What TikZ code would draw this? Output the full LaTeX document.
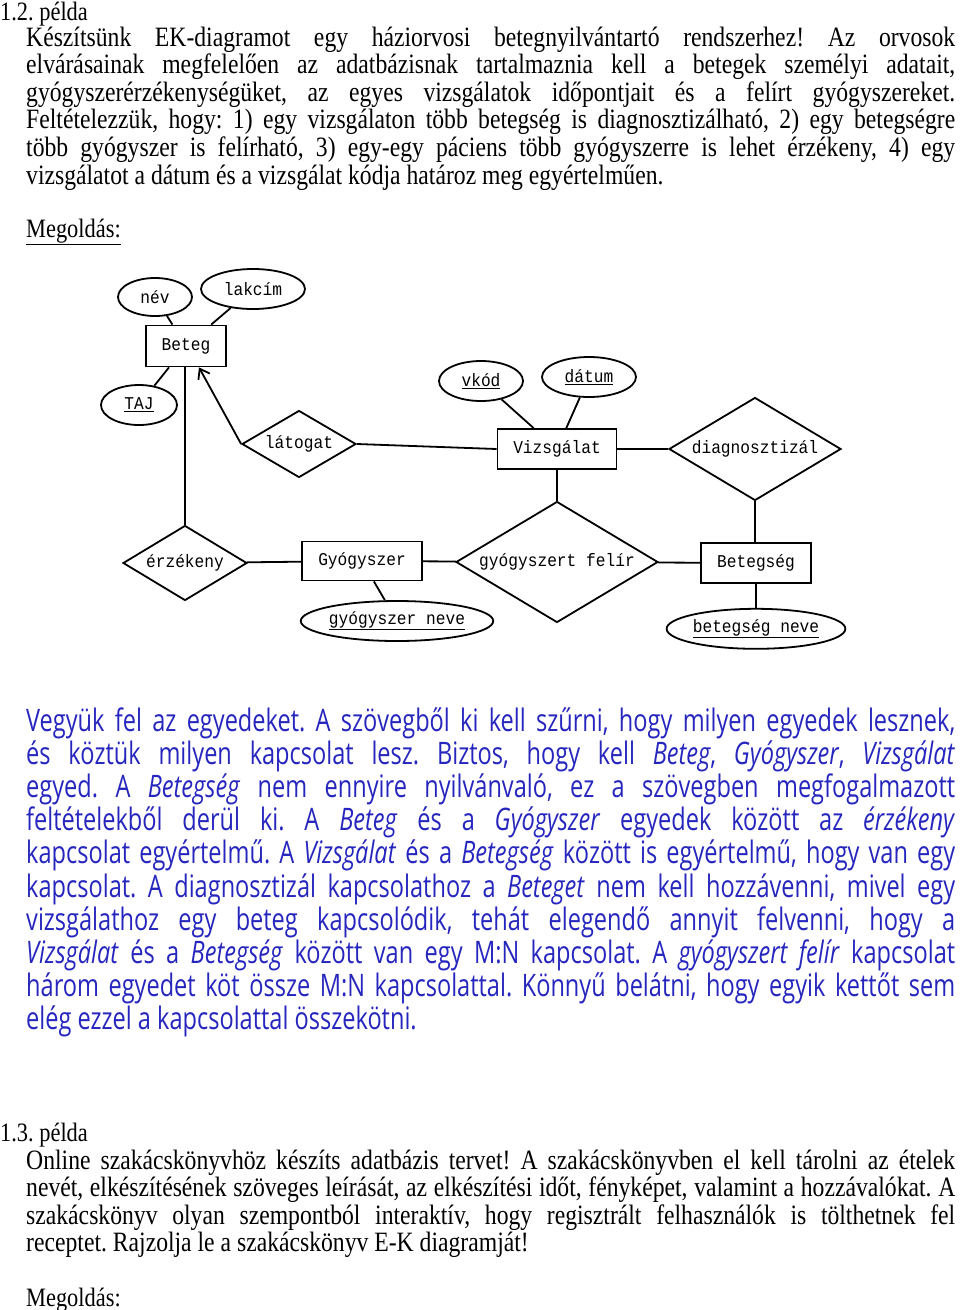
\documentclass[tikz,border=0pt]{standalone}
\usepackage{fontspec}
\setmainfont{Liberation Serif}[FakeStretch=0.845]
\setmonofont{Liberation Mono}[FakeStretch=0.9]
\newfontfamily\kekfont{Open Sans}[FakeStretch=0.76]
\usepackage{xcolor}
\usepackage{tikz}
\usetikzlibrary{shapes.geometric, arrows.meta, positioning}
\definecolor{kek}{RGB}{38,38,190}
\tolerance=10000
\hyphenpenalty=10000
\exhyphenpenalty=10000
\frenchspacing

\tikzset{
  egyed/.style={draw, rectangle, line width=1.8pt, inner sep=0pt, font=\ttfamily\fontsize{18}{20}\selectfont},
  kapcs/.style={draw, diamond, line width=1.8pt, inner sep=0pt, font=\ttfamily\fontsize{18}{20}\selectfont},
  tul/.style={draw, ellipse, line width=1.8pt, inner sep=0pt, font=\ttfamily\fontsize{18}{20}\selectfont},
  vonal/.style={line width=1.8pt},
  nyil/.style={-{Straight Barb[length=9pt,width=13pt]}},
  cim/.style={anchor=base west, inner sep=0pt, font=\fontsize{26.5}{27.6}\selectfont},
  bekezdes/.style={anchor=base west, inner sep=0pt, text width=929pt, align=justify, font=\fontsize{28}{27.6}\selectfont},
  megold/.style={anchor=base west, inner sep=0pt, text width=929pt, align=justify, text=kek, font=\kekfont\fontsize{31}{33.2}\selectfont}
}

\begin{document}
\begin{tikzpicture}[x=1pt, y=-1pt]
            \useasboundingbox (0,0) rectangle (960,1310);

            \node[cim] (pelda12) at (0,20) {1.2. példa};
            \node[bekezdes] (feladat12) at (26,46) {Készítsünk EK-diagramot egy háziorvosi betegnyilvántartó rendszerhez! Az orvosok\linebreak
            elvárásainak megfelelően az adatbázisnak tartalmaznia kell a betegek személyi adatait,\linebreak
            gyógyszerérzékenységüket, az egyes vizsgálatok időpontjait és a felírt gyógyszereket.\linebreak
            Feltételezzük, hogy: 1) egy vizsgálaton több betegség is diagnosztizálható, 2) egy betegségre\linebreak
            több gyógyszer is felírható, 3) egy-egy páciens több gyógyszerre is lehet érzékeny, 4) egy\linebreak
            vizsgálatot a dátum és a vizsgálat kódja határoz meg egyértelműen.};
            \node[cim] (megoldas12) at (26,237) {\underline{Megoldás:}};

            % egyedek
            \node[egyed, minimum width=80pt, minimum height=41pt] (Beteg) at (186,346) {Beteg};
            \node[egyed, minimum width=119pt, minimum height=40pt] (Vizsgalat) at (557,449) {Vizsgálat};
            \node[egyed, minimum width=120pt, minimum height=39pt] (Gyogyszer) at (362,561) {Gyógyszer};
            \node[egyed, minimum width=110pt, minimum height=40pt] (Betegseg) at (756,563) {Betegség};

            % tulajdonsagok
            \node[tul, minimum width=74pt, minimum height=38pt] (nev) at (155,297) {név};
            \node[tul, minimum width=104pt, minimum height=40pt] (lakcim) at (253,289) {lakcím};
            \node[tul, minimum width=76pt, minimum height=40pt] (TAJ) at (139,405) {\underline{TAJ}};
            \node[tul, minimum width=84pt, minimum height=40pt] (vkod) at (481,381) {\underline{vkód}};
            \node[tul, minimum width=94pt, minimum height=40pt] (datum) at (589,377) {\underline{dátum}};
            \node[tul, minimum width=182pt, minimum height=40pt] (gyneve) at (397,621) {\underline{gyógyszer neve}};
            \node[tul, minimum width=174pt, minimum height=40pt, below=24pt of Betegseg] (btneve) {\underline{betegség neve}};

            % kapcsolatok
            \node[kapcs, aspect=1.7, minimum width=114pt, minimum height=67pt] (latogat) at (299,444) {látogat};
            \node[kapcs, aspect=1.67, minimum width=172pt, minimum height=103pt] (diag) at (755,449) {diagnosztizál};
            \node[kapcs, aspect=1.65, minimum width=124pt, minimum height=75pt] (erzekeny) at (185,563) {érzékeny};
            \node[kapcs, aspect=1.67, minimum width=202pt, minimum height=121pt] (felir) at (557,562) {gyógyszert felír};

            \path[vonal]
            (nev) edge (Beteg)
            (lakcim) edge (Beteg)
            (TAJ) edge (Beteg)
            (erzekeny.north) edge (erzekeny.north |- Beteg.south)
            (latogat.west) edge[nyil] ([xshift=13pt]Beteg.south)
            (latogat.east) edge (Vizsgalat.west)
            (vkod) edge (Vizsgalat)
            (datum) edge (Vizsgalat)
            (Vizsgalat) edge (diag)
            (diag.south) edge (diag.south |- Betegseg.north)
            (Betegseg) edge (btneve)
            (Vizsgalat) edge (felir)
            (felir) edge (Betegseg)
            (Gyogyszer) edge (felir)
            (erzekeny) edge (Gyogyszer)
            (Gyogyszer) edge (gyneve);

            \node[megold] (magyarazat) at (26,731) {Vegyük fel az egyedeket. A szövegből ki kell szűrni, hogy milyen egyedek lesznek,\linebreak
            és köztük milyen kapcsolat lesz. Biztos, hogy kell \textit{Beteg}, \textit{Gyógyszer}, \textit{Vizsgálat}\linebreak
            egyed. A \textit{Betegség} nem ennyire nyilvánvaló, ez a szövegben megfogalmazott\linebreak
            feltételekből derül ki. A \textit{Beteg} és a \textit{Gyógyszer} egyedek között az \textit{érzékeny}\linebreak
            kapcsolat egyértelmű. A \textit{Vizsgálat} és a \textit{Betegség} között is egyértelmű, hogy van egy\linebreak
            kapcsolat. A diagnosztizál kapcsolathoz a \textit{Beteget} nem kell hozzávenni, mivel egy\linebreak
            vizsgálathoz egy beteg kapcsolódik, tehát elegendő annyit felvenni, hogy a\linebreak
            \textit{Vizsgálat} és a \textit{Betegség} között van egy M:N kapcsolat. A \textit{gyógyszert felír} kapcsolat\linebreak
            három egyedet köt össze M:N kapcsolattal. Könnyű belátni, hogy egyik kettőt sem\linebreak
            elég ezzel a kapcsolattal összekötni.};

            \node[cim] (pelda13) at (0,1141) {1.3. példa};
            \node[bekezdes] (feladat13) at (26,1169) {Online szakácskönyvhöz készíts adatbázis tervet! A szakácskönyvben el kell tárolni az ételek\linebreak
            nevét, elkészítésének szöveges leírását, az elkészítési időt, fényképet, valamint a hozzávalókat. A\linebreak
            szakácskönyv olyan szempontból interaktív, hogy regisztrált felhasználók is tölthetnek fel\linebreak
            receptet. Rajzolja le a szakácskönyv E-K diagramját!};
            \node[cim] (megoldas13) at (26,1306) {\underline{Megoldás:}};

\end{tikzpicture}
\end{document}
